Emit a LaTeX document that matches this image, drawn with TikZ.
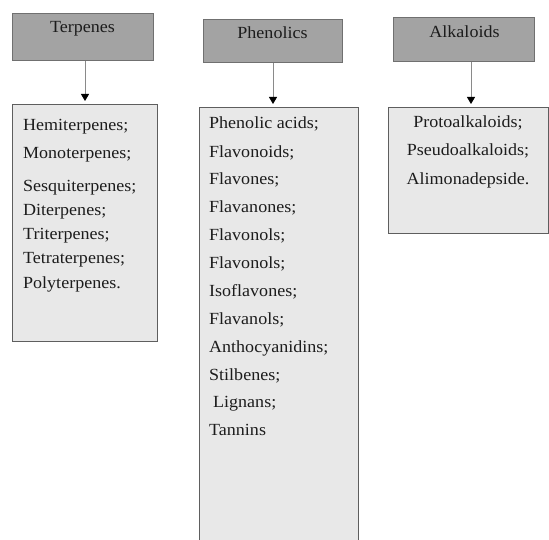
\documentclass[tikz,border=0pt]{standalone}
\usepackage{fontspec}
\setmainfont[FakeStretch=1.06]{Liberation Serif}
\usetikzlibrary{arrows.meta}
\definecolor{hdrfill}{HTML}{A3A3A3}
\definecolor{hdrline}{HTML}{707070}
\definecolor{lstfill}{HTML}{E8E8E8}
\definecolor{lstline}{HTML}{5E5E5E}
\definecolor{txt}{HTML}{1C1C1C}
\definecolor{arrline}{HTML}{8A8A8A}
\begin{document}
\begin{tikzpicture}[x=1pt,y=-1pt,
  font=\fontsize{17}{20}\selectfont, text=txt,
  hdr/.style={draw=hdrline, fill=hdrfill, line width=1.1pt, anchor=north west, inner sep=0pt},
  lst/.style={draw=lstline, fill=lstfill, line width=1.1pt, anchor=north west, inner sep=0pt},
  hlabel/.style={anchor=base, inner sep=0pt},
  item/.style={anchor=base west, inner sep=0pt},
  citem/.style={anchor=base, inner sep=0pt},
  arr/.style={draw=arrline, line width=1pt, shorten >=3pt, -{Triangle[length=7pt,width=8pt,color=black]}}
]
\clip (0,0) rectangle (549,540);
\fill[white] (0,0) rectangle (549,540);

% Headers
\node[hdr, minimum width=141pt, minimum height=47pt] (th) at (12,13) {};
\node[hlabel] (thl) at (82.5,33) {Terpenes};
\node[hdr, minimum width=139pt, minimum height=43pt] (ph) at (203,19) {};
\node[hlabel] (phl) at (272.5,39) {Phenolics};
\node[hdr, minimum width=141pt, minimum height=44pt] (ah) at (393,17) {};
\node[hlabel] (ahl) at (464.5,38) {Alkaloids};

% Lists
\node[lst, minimum width=145pt, minimum height=237pt] (tl) at (12,104) {};
\node[lst, minimum width=159pt, minimum height=445pt] (pl) at (199,107) {};
\node[lst, minimum width=160pt, minimum height=126pt] (al) at (388,107) {};

% Arrows
\draw[arr] (th.south -| 85,0) -- (tl.north -| 85,0);
\draw[arr] (ph.south -| 273,0) -- (pl.north -| 273,0);
\draw[arr] (ah.south -| 471,0) -- (al.north -| 471,0);

% Terpenes items
\node[item] (t1) at (23,131) {Hemiterpenes;};
\node[item] (t2) at (23,159) {Monoterpenes;};
\node[item] (t3) at (23,192) {Sesquiterpenes;};
\node[item] (t4) at (23,216) {Diterpenes;};
\node[item] (t5) at (23,240) {Triterpenes;};
\node[item] (t6) at (23,264) {Tetraterpenes;};
\node[item] (t7) at (23,288) {Polyterpenes.};

% Phenolics items
\node[item] (p1) at (209,129) {Phenolic acids;};
\node[item] (p2) at (209,158) {Flavonoids;};
\node[item] (p3) at (209,185) {Flavones;};
\node[item] (p4) at (209,213) {Flavanones;};
\node[item] (p5) at (209,241) {Flavonols;};
\node[item] (p6) at (209,269) {Flavonols;};
\node[item] (p7) at (209,296) {Isoflavones;};
\node[item] (p8) at (209,324) {Flavanols;};
\node[item] (p9) at (209,352) {Anthocyanidins;};
\node[item] (p10) at (209,380) {Stilbenes;};
\node[item] (p11) at (213,407) {Lignans;};
\node[item] (p12) at (209,435) {Tannins};

% Alkaloids items
\node[citem] (a1) at (468,128) {Protoalkaloids;};
\node[citem] (a2) at (468,156) {Pseudoalkaloids;};
\node[citem] (a3) at (468,185) {Alimonadepside.};
\end{tikzpicture}
\end{document}
